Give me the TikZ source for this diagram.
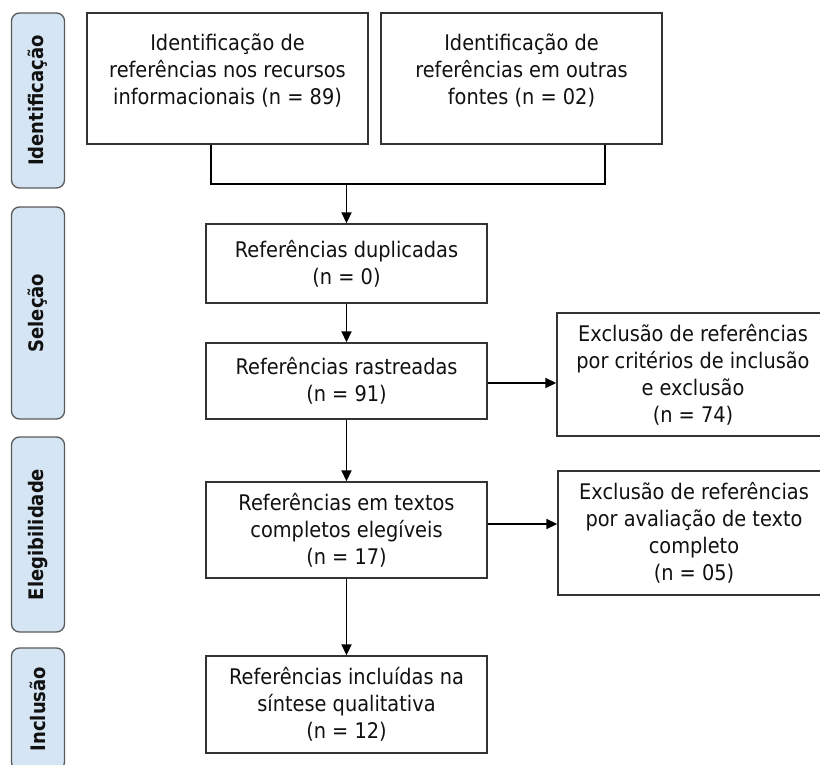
\documentclass[tikz,border=0pt]{standalone}
\usepackage{fontspec}
\setmainfont{DejaVu Sans}[FakeStretch=0.9]
\usetikzlibrary{arrows.meta}
\definecolor{barfill}{HTML}{D5E5F3}
\definecolor{barline}{HTML}{5A5A5A}
\definecolor{boxline}{HTML}{333333}
\definecolor{txt}{HTML}{111111}
\begin{document}
\begin{tikzpicture}[x=1pt,y=-1pt,
  box/.style={draw=boxline,line width=1.4pt,fill=white,align=center,inner sep=0pt,
    text=txt,font=\fontsize{21.5}{27}\selectfont,minimum width=#1},
  box/.default=281pt,
  bar/.style={draw=barline,fill=barfill,line width=1.3pt,rounded corners=8pt,
    minimum height=53pt,inner sep=0pt,rotate=90,text=txt,
    font=\bfseries\fontsize{20}{22}\selectfont},
  conn/.style={line width=1.8pt,black},
  arr/.style={conn,-{Triangle[length=11pt,width=10pt]}}]
\useasboundingbox (0,0) rectangle (820,765);
\clip (0,0) rectangle (820,765);
% phase bars
\node[bar,minimum width=175pt] (p1) at (38,100.5) {Identificação};
\node[bar,minimum width=212pt] (p2) at (38,313) {Seleção};
\node[bar,minimum width=195pt] (p3) at (38,534.5) {Elegibilidade};
\node[bar,minimum width=122pt] (p4) at (38,709) {Inclusão};
% boxes
\node[box=281pt,minimum height=131pt] (b1) at (227.5,78.5)
  {Identificação de\\referências nos recursos\\informacionais (n = 89)\\[-8pt]\rule{0pt}{0pt}};
\node[box=281pt,minimum height=131pt] (b2) at (521.5,78.5)
  {Identificação de\\referências em outras\\fontes (n = 02)\\[-8pt]\rule{0pt}{0pt}};
\node[box,minimum height=79pt] (b3) at (346.5,263.5)
  {Referências duplicadas\\(n = 0)};
\node[box,minimum height=76pt] (b4) at (346.5,381)
  {Referências rastreadas\\(n = 91)};
\node[box,minimum height=96pt] (b5) at (346.5,530)
  {Referências em textos\\completos elegíveis\\(n = 17)};
\node[box,minimum height=97pt] (b6) at (346.5,704.5)
  {Referências incluídas na\\síntese qualitativa\\(n = 12)};
\node[box=272pt,minimum height=123pt] (e1) at (693,374.5)
  {Exclusão de referências\\por critérios de inclusão\\e exclusão\\(n = 74)};
\node[box=272pt,minimum height=124pt] (e2) at (694,533)
  {Exclusão de referências\\por avaliação de texto\\completo\\(n = 05)};
% connectors
\coordinate (c1) at (211,184);
\coordinate (c2) at (605,184);
\draw[conn] (c1 |- b1.south) -- (c1) -- (c2) -- (c2 |- b2.south);
\draw[arr] (b3.north |- c1) -- (b3.north);
\draw[arr] (b3.south) -- (b4.north);
\draw[arr] (b4.south) -- (b5.north);
\draw[arr] (b5.south) -- (b6.north);
\draw[arr] ([yshift=-2pt]b4.east) -- ([yshift=-2pt]b4.east -| e1.west);
\draw[arr] ([yshift=6pt]b5.east) -- ([yshift=6pt]b5.east -| e2.west);
\end{tikzpicture}
\end{document}
